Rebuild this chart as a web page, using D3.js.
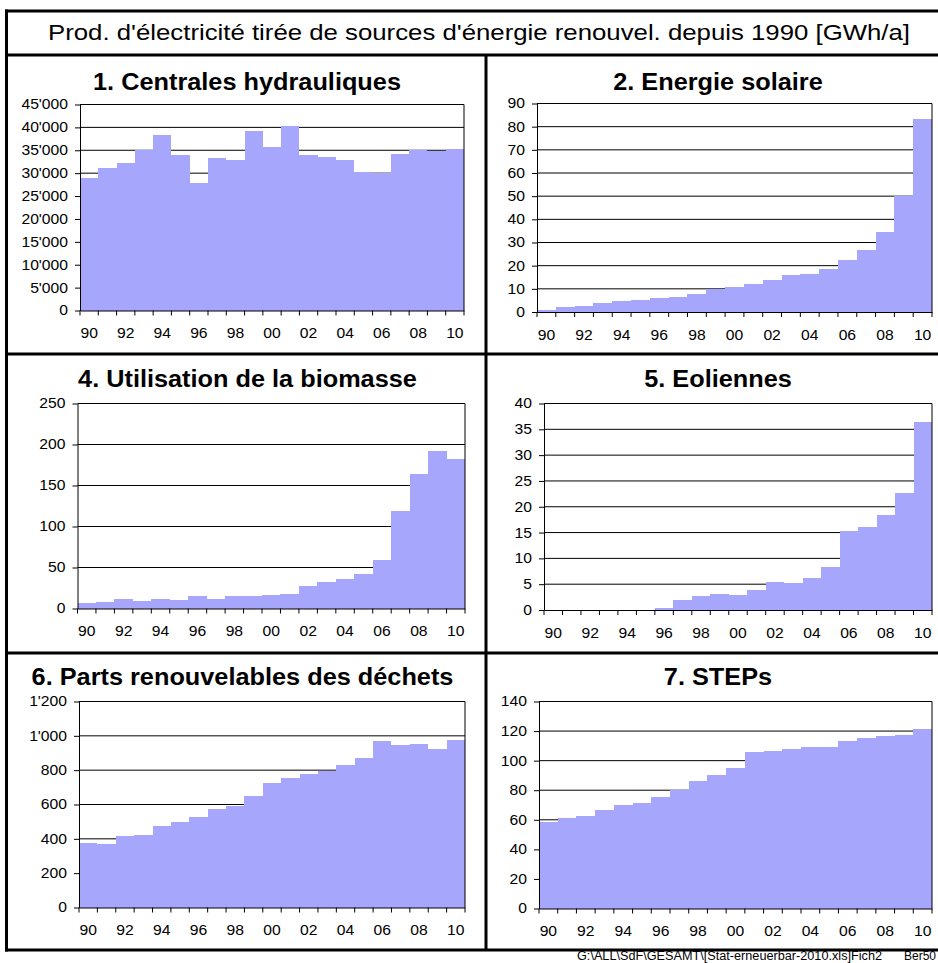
<!DOCTYPE html>
<html>
<head>
<meta charset="utf-8">
<script src="https://cdn.jsdelivr.net/npm/d3@7"></script>
<style>
  html, body { margin: 0; padding: 0; background: #fff; overflow: hidden; }
  svg { display: block; font-family: "Liberation Sans", Arial, sans-serif; }
</style>
</head>
<body>
<svg id="chart" width="938" height="963"></svg>
<script>
// Years 1990–2010, labelled by their last two digits
const years = ["90","91","92","93","94","95","96","97","98","99","00",
               "01","02","03","04","05","06","07","08","09","10"];

// Electricity production per source [GWh/a]
const hydro   = [29000, 31200, 32300, 35100, 38400, 34000, 27900, 33400, 32800, 39300, 35800,
                 40400, 34000, 33600, 32800, 30200, 29950, 34200, 35100, 34900, 35200];
const solar   = [1.0, 2.0, 2.7, 4.0, 4.9, 5.3, 6.2, 6.6, 7.9, 9.9, 10.9,
                 12.2, 13.9, 16.1, 16.5, 18.7, 22.5, 26.8, 34.6, 50.1, 83.2];
const biomass = [6.5, 7.7, 11.4, 8.9, 11.4, 10.2, 15.0, 11.4, 15.0, 15.0, 16.3,
                 17.5, 27.2, 32.1, 35.8, 41.9, 58.9, 118.7, 163.8, 191.9, 182.1];
const wind    = [0, 0, 0, 0, 0, 0, 0.4, 1.9, 2.7, 3.1, 2.9,
                 3.9, 5.4, 5.2, 6.2, 8.3, 15.3, 16.0, 18.4, 22.6, 36.5];
const waste   = [377, 371, 417, 423, 476, 499, 528, 575, 594, 650, 726,
                 755, 779, 796, 831, 872, 971, 948, 953, 924, 977];
const steps   = [58.6, 61.1, 62.5, 66.5, 69.9, 71.2, 75.3, 80.3, 86.1, 90.2, 94.9,
                 105.7, 106.4, 107.8, 108.9, 108.9, 113.2, 115.2, 116.6, 117.2, 121.3];

// Value-axis ticks of each panel
const hydroTicks   = [0, 5000, 10000, 15000, 20000, 25000, 30000, 35000, 40000, 45000];
const solarTicks   = [0, 10, 20, 30, 40, 50, 60, 70, 80, 90];
const biomassTicks = [0, 50, 100, 150, 200, 250];
const windTicks    = [0, 5, 10, 15, 20, 25, 30, 35, 40];
const wasteTicks   = [0, 200, 400, 600, 800, 1000, 1200];
const stepsTicks   = [0, 20, 40, 60, 80, 100, 120, 140];

// Every other year carries a label
const yearLabels = years.filter((d, i) => i % 2 === 0);

const mainTitle = "Prod. d'électricité tirée de sources d'énergie renouvel. depuis 1990 [GWh/a]";
const footer = "G:\\ALL\\SdF\\GESAMT\\[Stat-erneuerbar-2010.xls]Fich2";
const footerSheet = "Ber50";

// Layout of the six small multiples
const panels = [
  { title: "1. Centrales hydrauliques", values: hydro, ticks: hydroTicks,
    x0: 80, x1: 464, y0: 104.5, y1: 310.5, tx: 247, ty: 89.5 },
  { title: "2. Energie solaire", values: solar, ticks: solarTicks,
    x0: 537, x1: 932, y0: 103.5, y1: 312, tx: 718, ty: 89.5 },
  { title: "4. Utilisation de la biomasse", values: biomass, ticks: biomassTicks,
    x0: 77.5, x1: 465, y0: 403.5, y1: 608.5, tx: 247.5, ty: 387.3 },
  { title: "5. Eoliennes", values: wind, ticks: windTicks,
    x0: 544, x1: 932, y0: 403.5, y1: 610, tx: 718, ty: 387.3 },
  { title: "6. Parts renouvelables des déchets", values: waste, ticks: wasteTicks,
    x0: 79, x1: 465, y0: 701.5, y1: 907.5, tx: 242.5, ty: 685.3 },
  { title: "7. STEPs", values: steps, ticks: stepsTicks,
    x0: 539, x1: 932, y0: 701.5, y1: 908.5, tx: 718, ty: 685.3 }
];

const barColor = "#a6a6fc";
const textStretch = 1.12;   // slightly wide lettering
const fmt = d3.formatLocale({ decimal: ".", thousands: "'", grouping: [3], currency: ["", ""] }).format(",");

const svg = d3.select("#chart");

function stretch(sel, k) {
  sel.each(function () {
    const w = this.getComputedTextLength();
    this.setAttribute("textLength", w * k);
    this.setAttribute("lengthAdjust", "spacingAndGlyphs");
  });
}

// Panels
panels.forEach(p => {
  const g = svg.append("g");
  const x = d3.scaleBand().domain(years).range([p.x0, p.x1]).padding(0);
  const y = d3.scaleLinear().domain([0, d3.max(p.ticks)]).range([p.y1, p.y0]);

  // horizontal gridlines (the top one closes the plot area)
  g.append("g").selectAll("line")
    .data(p.ticks.slice(1))
    .join("line")
    .attr("x1", p.x0).attr("x2", p.x1)
    .attr("y1", d => y(d)).attr("y2", d => y(d))
    .attr("stroke", "#000").attr("stroke-width", 1);

  // bars
  g.append("g").selectAll("rect")
    .data(p.values)
    .join("rect")
    .attr("x", (d, i) => x(years[i]))
    .attr("y", d => y(d))
    .attr("width", x.bandwidth())
    .attr("height", d => y(0) - y(d))
    .attr("fill", barColor)
    .attr("shape-rendering", "crispEdges");

  // right edge of the plot area
  g.append("line")
    .attr("x1", p.x1).attr("x2", p.x1)
    .attr("y1", p.y0).attr("y2", p.y1)
    .attr("stroke", "#000").attr("stroke-width", 1);

  // value axis
  const ya = g.append("g")
    .attr("transform", `translate(${p.x0},0)`)
    .call(d3.axisLeft(y).tickValues(p.ticks).tickFormat(fmt)
      .tickSize(5).tickSizeOuter(0).tickPadding(7));
  ya.attr("font-family", null).attr("font-size", null);
  ya.selectAll("path, line").attr("stroke", "#000");
  ya.selectAll("text").attr("font-size", 14).attr("fill", "#000");
  stretch(ya.selectAll("text"), textStretch);

  // category axis: boundary ticks between the years
  const xa = g.append("g")
    .attr("transform", `translate(0,${p.y1})`)
    .call(d3.axisBottom(x).tickValues(yearLabels).tickSize(0).tickSizeOuter(0).tickPadding(18));
  xa.attr("font-family", null).attr("font-size", null);
  xa.select(".domain").attr("stroke", "#000");
  xa.selectAll(".tick line").remove();
  xa.selectAll("text").attr("font-size", 14).attr("fill", "#000");
  stretch(xa.selectAll("text"), textStretch);
  xa.append("g").selectAll("line")
    .data(d3.range(years.length + 1))
    .join("line")
    .attr("x1", i => p.x0 + i * x.bandwidth())
    .attr("x2", i => p.x0 + i * x.bandwidth())
    .attr("y1", 0).attr("y2", 5)
    .attr("stroke", "#000");

  // panel title
  const t = g.append("text")
    .attr("x", p.tx).attr("y", p.ty)
    .attr("text-anchor", "middle")
    .attr("font-size", 23).attr("font-weight", "bold")
    .text(p.title);
  stretch(t, 1.1);
});

// Frame: title box, panel dividers and outer border
const frame = svg.append("g").attr("stroke", "#000").attr("stroke-width", 3);
[11, 55, 354, 653, 950].forEach(yy => {
  frame.append("line").attr("x1", 5).attr("x2", 940).attr("y1", yy).attr("y2", yy);
});
frame.append("line").attr("x1", 6.5).attr("x2", 6.5).attr("y1", 9.5).attr("y2", 951.5);
frame.append("line").attr("x1", 486).attr("x2", 486).attr("y1", 55).attr("y2", 950);

// Main title
svg.append("text")
  .attr("x", 479).attr("y", 40)
  .attr("text-anchor", "middle")
  .attr("font-size", 22)
  .attr("textLength", 862).attr("lengthAdjust", "spacingAndGlyphs")
  .text(mainTitle);

// File reference below the frame
svg.append("text")
  .attr("x", 577).attr("y", 960)
  .attr("font-size", 12)
  .attr("textLength", 305).attr("lengthAdjust", "spacingAndGlyphs")
  .text(footer);
svg.append("text")
  .attr("x", 904).attr("y", 960)
  .attr("font-size", 12)
  .text(footerSheet);
</script>
</body>
</html>
